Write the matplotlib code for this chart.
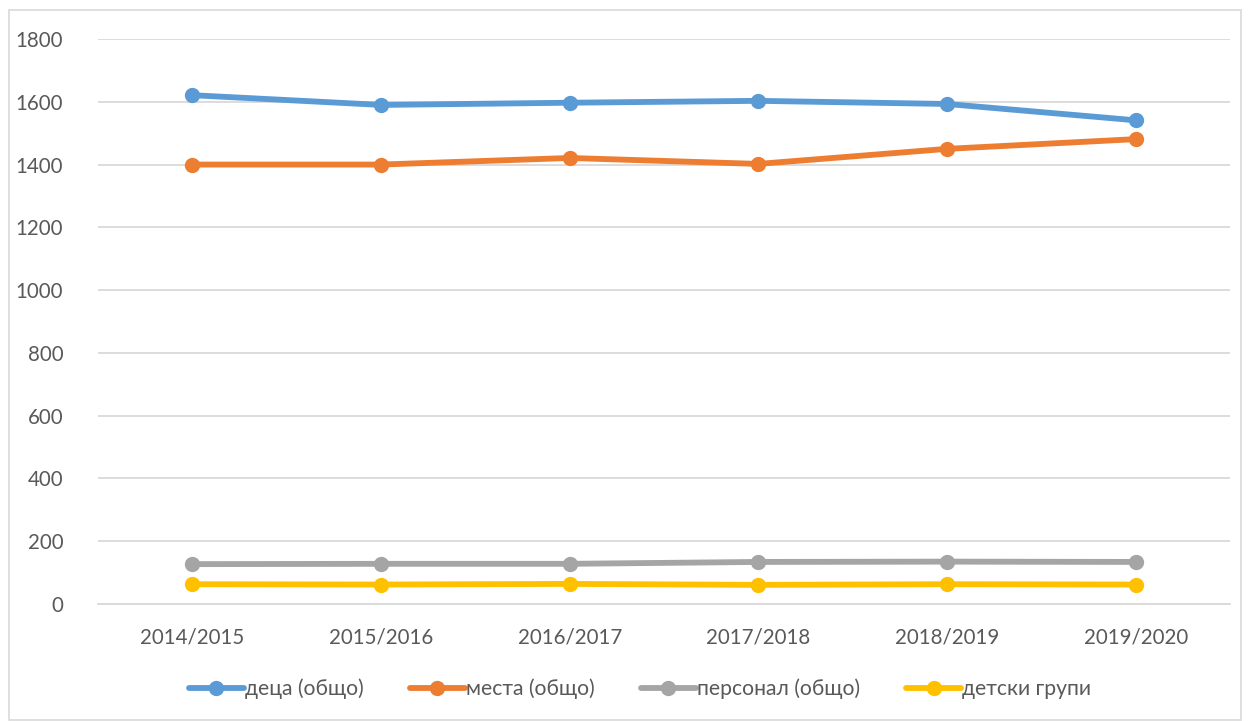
import matplotlib.pyplot as plt
from matplotlib.patches import Rectangle

# Datos
years = ["2014/2015", "2015/2016", "2016/2017", "2017/2018", "2018/2019", "2019/2020"]
deca = [1621, 1590, 1597, 1603, 1593, 1541]
mesta = [1400, 1400, 1421, 1402, 1450, 1481]
personal = [127, 128, 128, 134, 135, 134]
grupi = [63, 62, 64, 61, 63, 62]

series = [
    ("деца (общо)", deca, "#5b9bd5"),
    ("места (общо)", mesta, "#ed7d31"),
    ("персонал (общо)", personal, "#a5a5a5"),
    ("детски групи", grupi, "#ffc000"),
]

plt.rcParams['font.family'] = ['Lato', 'DejaVu Sans']

fig = plt.figure(figsize=(12.5, 7.21), dpi=100)
ax = fig.add_axes([98 / 1250, 1 - 604 / 721, (1230 - 98) / 1250, (604 - 39) / 721])

x = list(range(len(years)))
for name, vals, color in series:
    ax.plot(x, vals, color=color, lw=4.2, marker='o', ms=10,
            solid_capstyle='round', label=name)

ax.set_xlim(-0.5, len(years) - 0.5)
ax.set_ylim(0, 1800)
ax.set_yticks(range(0, 1801, 200))
ax.set_xticks(x)
ax.set_xticklabels(years)
ax.grid(axis='y', color='#d9d9d9', lw=1.3)
ax.set_axisbelow(True)
for s in ['top', 'right', 'left']:
    ax.spines[s].set_visible(False)
ax.spines['bottom'].set_color('#d9d9d9')
ax.spines['bottom'].set_linewidth(1.3)
ax.tick_params(axis='both', length=0, labelsize=14.8, colors='#595959')
ax.tick_params(axis='y', pad=25)
ax.tick_params(axis='x', pad=17)

leg = fig.legend(loc='center', bbox_to_anchor=(0.512, 1 - 689 / 721), ncol=4,
                 frameon=False, fontsize=15.2, handlelength=2.6,
                 handletextpad=0.05, columnspacing=2.2)
for t in leg.get_texts():
    t.set_color('#595959')

# Borde del gráfico
fig.patches.append(Rectangle((9 / 1250, 0.002), 1 - 18 / 1250, 1 - 10 / 721 - 0.002,
                             transform=fig.transFigure, fill=False,
                             edgecolor='#d9d9d9', lw=1.2))

fig.savefig("out.png", dpi=100)
